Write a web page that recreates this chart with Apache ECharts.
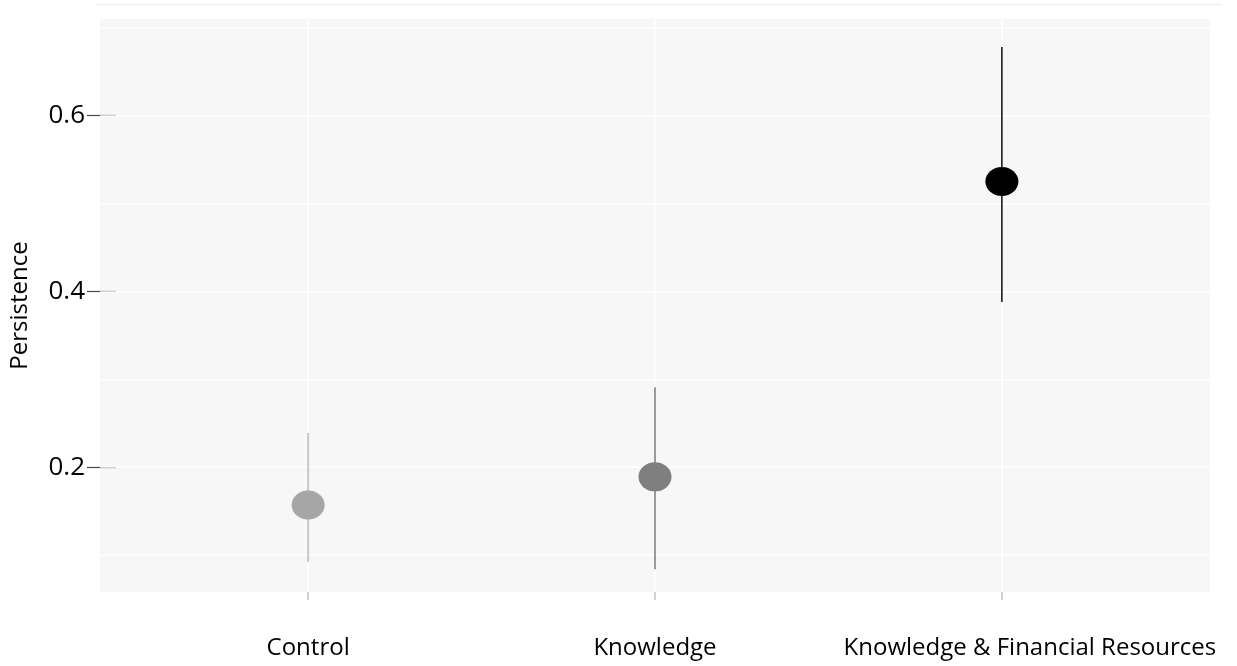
<!DOCTYPE html>
<html>
<head>
<meta charset="utf-8">
<script src="https://cdn.jsdelivr.net/npm/echarts@6/dist/echarts.min.js"></script>
<style>
  html, body { margin: 0; padding: 0; background: #ffffff; }
  #chart { width: 1237px; height: 666px; }
</style>
</head>
<body>
<div id="chart"></div>
<script>
// Treatment groups and their persistence estimates with confidence bounds
const categories = ['Control', 'Knowledge', 'Knowledge & Financial Resources'];
const estimates = [0.157, 0.189, 0.525];
const lowerBounds = [0.092, 0.084, 0.388];
const upperBounds = [0.239, 0.291, 0.678];
const yTickValues = [0.2, 0.4, 0.6];
const yGridValues = [0.1, 0.2, 0.3, 0.4, 0.5, 0.6, 0.7];
const xPositions = [1, 2, 3];

const pointColors = ['#a6a6a6', '#7f7f7f', '#000000'];
const barColors = ['#c8c8c8', '#8f8f8f', '#1a1a1a'];
const barWidths = [2, 1.8, 1.6];

const FONT = '"Open Sans", "Noto Sans", sans-serif';

const chart = echarts.init(document.getElementById('chart'), null, { renderer: 'canvas' });

const scatterData = estimates.map((v, i) => ({
  value: [xPositions[i], v],
  itemStyle: { color: pointColors[i], opacity: 1 }
}));

const intervalData = estimates.map((v, i) => [xPositions[i], lowerBounds[i], upperBounds[i]]);

chart.setOption({
  animation: false,
  backgroundColor: '#ffffff',
  grid: {
    left: 100, right: 27, top: 19, bottom: 74,
    outerBoundsMode: 'none',
    containLabel: false,
    show: true, backgroundColor: '#f7f7f7', borderWidth: 0
  },
  graphic: [{
    type: 'line',
    shape: { x1: 97, y1: 4.5, x2: 1222, y2: 4.5 },
    style: { stroke: '#ececec', lineWidth: 1 },
    silent: true
  }],
  xAxis: {
    type: 'value',
    min: 0.4, max: 3.6,
    axisLine: { show: false },
    splitLine: { show: false },
    axisTick: {
      show: true, length: 8, customValues: xPositions,
      lineStyle: { color: '#c4c4c4', width: 1.5 }
    },
    axisLabel: {
      customValues: xPositions,
      margin: 44,
      hideOverlap: false,
      fontFamily: FONT, fontSize: 24, color: '#000000',
      formatter: function (v) {
        const idx = Math.round(v) - 1;
        const text = categories[idx] || '';
        return idx === 2 ? '{wide|' + text + '}' : text;
      },
      rich: {
        wide: { fontFamily: FONT, fontSize: 24, color: '#000000', padding: [0, 0, 0, 56] }
      }
    }
  },
  yAxis: {
    type: 'value',
    min: 0.058, max: 0.71,
    offset: -16,
    name: 'Persistence',
    nameLocation: 'middle',
    nameGap: 84,
    nameTextStyle: { fontFamily: FONT, fontSize: 24, color: '#000000' },
    axisLine: { show: false },
    splitLine: { show: false },
    axisTick: {
      show: true, length: 29, customValues: yTickValues,
      lineStyle: { color: '#4a4a4a', width: 1.2 }
    },
    axisLabel: {
      customValues: yTickValues,
      margin: 31,
      fontFamily: FONT, fontSize: 26, color: '#000000',
      formatter: function (v) { return v.toFixed(1); }
    }
  },
  series: [
    {
      // white reference lines across the panel
      type: 'line',
      data: [],
      z: 1,
      silent: true,
      markLine: {
        silent: true,
        z: 1,
        symbol: ['none', 'none'],
        label: { show: false },
        lineStyle: { color: '#ffffff', width: 1.5, type: 'solid', opacity: 1 },
        emphasis: { disabled: true },
        data: yGridValues.map(v => ({ yAxis: v }))
          .concat(xPositions.map(v => ({ xAxis: v })))
      }
    },
    {
      // confidence interval whiskers
      type: 'custom',
      z: 3,
      silent: true,
      data: intervalData,
      renderItem: function (params, api) {
        const idx = params.dataIndex;
        const lo = api.coord([api.value(0), api.value(1)]);
        const hi = api.coord([api.value(0), api.value(2)]);
        return {
          type: 'line',
          shape: { x1: lo[0], y1: lo[1], x2: hi[0], y2: hi[1] },
          style: { stroke: barColors[idx], lineWidth: barWidths[idx], opacity: 1 }
        };
      }
    },
    {
      // point estimates
      type: 'scatter',
      z: 4,
      symbol: 'circle',
      symbolSize: [33, 29],
      itemStyle: { opacity: 1 },
      data: scatterData
    }
  ]
});
</script>
</body>
</html>
